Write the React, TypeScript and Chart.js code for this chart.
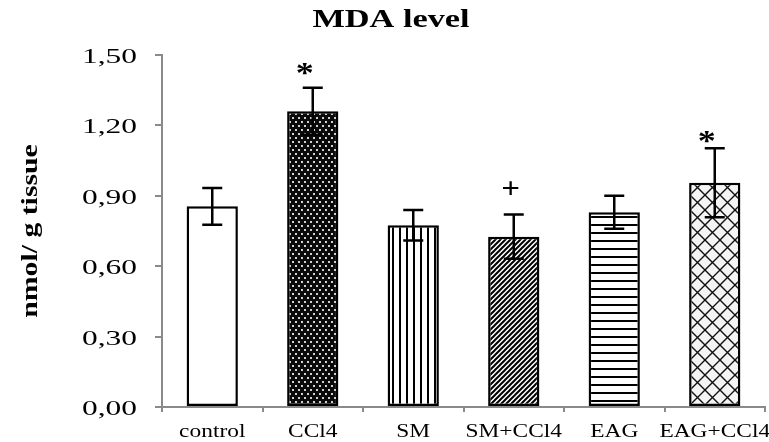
import React, { useEffect, useRef } from "react";
import { Chart, registerables } from "chart.js";

Chart.register(...registerables);

const chartTitle = "MDA level";
const yAxisTitle = "nmol/ g tissue";
const categories = ["control", "CCl4", "SM", "SM+CCl4", "EAG", "EAG+CCl4"];
const means = [0.855, 1.26, 0.775, 0.726, 0.83, 0.956];
const errors = [0.078, 0.1, 0.065, 0.094, 0.07, 0.147];
const marks = ["", "*", "", "+", "", "*"];
const markLevels = [null, 1.444, null, 0.925, null, 1.155];
const yTicks = [0, 0.3, 0.6, 0.9, 1.2, 1.5];

const SERIF = "'Liberation Serif', 'Times New Roman', serif";

function makeTile(w: number, h: number, draw: (c: CanvasRenderingContext2D) => void): CanvasPattern | string {
  const cv = document.createElement("canvas");
  cv.width = w;
  cv.height = h;
  const c = cv.getContext("2d");
  if (!c) return "#fff";
  draw(c);
  const ctx = document.createElement("canvas").getContext("2d");
  return (ctx && ctx.createPattern(cv, "repeat")) || "#fff";
}

function buildPatterns() {
  const white = "#ffffff";
  const dots = makeTile(6, 8, (c) => {
    c.fillStyle = "#0a0a0a";
    c.fillRect(0, 0, 6, 8);
    c.fillStyle = "#d0d0d0";
    c.fillRect(1, 1, 2, 2);
    c.fillRect(4, 5, 2, 2);
  });
  const vertical = makeTile(7, 4, (c) => {
    c.fillStyle = "#fff";
    c.fillRect(0, 0, 7, 4);
    c.fillStyle = "#000";
    c.fillRect(0, 0, 2, 4);
  });
  const diagonal = makeTile(5, 5, (c) => {
    c.fillStyle = "#fff";
    c.fillRect(0, 0, 5, 5);
    c.strokeStyle = "#000";
    c.lineWidth = 2;
    c.beginPath();
    c.moveTo(-1, 6);
    c.lineTo(6, -1);
    c.moveTo(-1, 1);
    c.lineTo(1, -1);
    c.moveTo(4, 6);
    c.lineTo(6, 4);
    c.stroke();
  });
  const horizontal = makeTile(4, 8, (c) => {
    c.fillStyle = "#fff";
    c.fillRect(0, 0, 4, 8);
    c.fillStyle = "#000";
    c.fillRect(0, 0, 4, 2);
  });
  const cross = makeTile(15, 15, (c) => {
    c.fillStyle = "#f4f4f4";
    c.fillRect(0, 0, 15, 15);
    c.strokeStyle = "#111";
    c.lineWidth = 1.4;
    c.beginPath();
    c.moveTo(0, 0);
    c.lineTo(15, 15);
    c.moveTo(15, 0);
    c.lineTo(0, 15);
    c.stroke();
  });
  return [white, dots, vertical, diagonal, horizontal, cross];
}

function stretchedText(
  ctx: CanvasRenderingContext2D,
  text: string,
  x: number,
  y: number,
  font: string,
  sx: number,
  align: CanvasTextAlign,
  baseline: CanvasTextBaseline,
  rotate = 0
) {
  ctx.save();
  ctx.translate(x, y);
  if (rotate) ctx.rotate(rotate);
  ctx.scale(sx, 1);
  ctx.font = font;
  ctx.textAlign = align;
  ctx.textBaseline = baseline;
  ctx.fillStyle = "#000";
  ctx.fillText(text, 0, 0);
  ctx.restore();
}

const decorPlugin = {
  id: "decor",
  afterDatasetsDraw(chart: any) {
    const ctx: CanvasRenderingContext2D = chart.ctx;
    const yScale = chart.scales.y;
    const meta = chart.getDatasetMeta(0);
    ctx.save();
    ctx.strokeStyle = "#000";
    ctx.lineWidth = 2.5;
    meta.data.forEach((bar: any, i: number) => {
      const x = bar.x;
      const top = yScale.getPixelForValue(means[i] + errors[i]);
      const bot = yScale.getPixelForValue(means[i] - errors[i]);
      ctx.beginPath();
      ctx.moveTo(x, top);
      ctx.lineTo(x, bot);
      ctx.moveTo(x - 10, top);
      ctx.lineTo(x + 10, top);
      ctx.moveTo(x - 10, bot);
      ctx.lineTo(x + 10, bot);
      ctx.stroke();
    });
    ctx.restore();
  },
  afterDraw(chart: any) {
    const ctx: CanvasRenderingContext2D = chart.ctx;
    const yScale = chart.scales.y;
    const xScale = chart.scales.x;
    const area = chart.chartArea;
    stretchedText(ctx, chartTitle, 391, 27, `bold 26px ${SERIF}`, 1.32, "center", "alphabetic");
    stretchedText(ctx, yAxisTitle, 31, 231, `bold 24px ${SERIF}`, 1.24, "center", "middle", -Math.PI / 2);
    yTicks.forEach((v) => {
      const y = yScale.getPixelForValue(v);
      stretchedText(ctx, v.toFixed(2).replace(".", ","), 137, y + 8, `22px ${SERIF}`, 1.43, "right", "alphabetic");
    });
    categories.forEach((c, i) => {
      const x = xScale.getPixelForValue(i);
      stretchedText(ctx, c, x, area.bottom + 30, `18px ${SERIF}`, 1.3, "center", "alphabetic");
    });
    marks.forEach((m, i) => {
      const lvl = markLevels[i];
      if (!m || lvl === null) return;
      const x = xScale.getPixelForValue(i);
      const y = yScale.getPixelForValue(lvl);
      if (m === "*") {
        stretchedText(ctx, m, x - 8, y + 14, `bold 30px ${SERIF}`, 1.2, "center", "alphabetic");
      } else {
        stretchedText(ctx, m, x - 3, y + 8, `bold 30px ${SERIF}`, 1.1, "center", "alphabetic");
      }
    });
  },
};

export default function App() {
  const ref = useRef<HTMLCanvasElement | null>(null);
  useEffect(() => {
    if (!ref.current) return;
    const patterns = buildPatterns();
    const chart = new Chart(ref.current, {
      type: "bar",
      data: {
        labels: categories,
        datasets: [
          {
            data: means,
            backgroundColor: patterns as any,
            borderColor: "#000",
            borderWidth: 2.5,
            borderSkipped: false,
            barPercentage: 0.51,
            categoryPercentage: 1.0,
          },
        ],
      },
      options: {
        responsive: false,
        animation: false,
        layout: { padding: { top: 55, right: 4, left: 0, bottom: 0 } },
        plugins: {
          legend: { display: false },
          title: { display: false },
          tooltip: { enabled: false },
        },
        scales: {
          x: {
            offset: true,
            grid: {
              display: true,
              offset: true,
              drawOnChartArea: false,
              drawTicks: true,
              tickLength: 5,
              color: "#8a8a8a",
              lineWidth: 2,
            },
            border: { display: true, color: "#8a8a8a", width: 2 },
            ticks: { display: false },
            afterFit: (s: any) => {
              s.height = 35;
            },
          },
          y: {
            min: 0,
            max: 1.5,
            afterBuildTicks: (s: any) => {
              s.ticks = yTicks.map((v) => ({ value: v }));
            },
            grid: {
              display: true,
              drawOnChartArea: false,
              drawTicks: true,
              tickLength: 7,
              color: "#8a8a8a",
              lineWidth: 2,
            },
            border: { display: true, color: "#8a8a8a", width: 2 },
            ticks: { display: false },
            afterFit: (s: any) => {
              s.width = 162;
            },
          },
        },
      },
      plugins: [decorPlugin],
    });
    return () => chart.destroy();
  }, []);
  return (
    <div style={{ position: "absolute", left: 0, top: 0, width: 769, height: 442, background: "#fff" }}>
      <canvas ref={ref} width={769} height={442} style={{ display: "block" }} />
    </div>
  );
}
